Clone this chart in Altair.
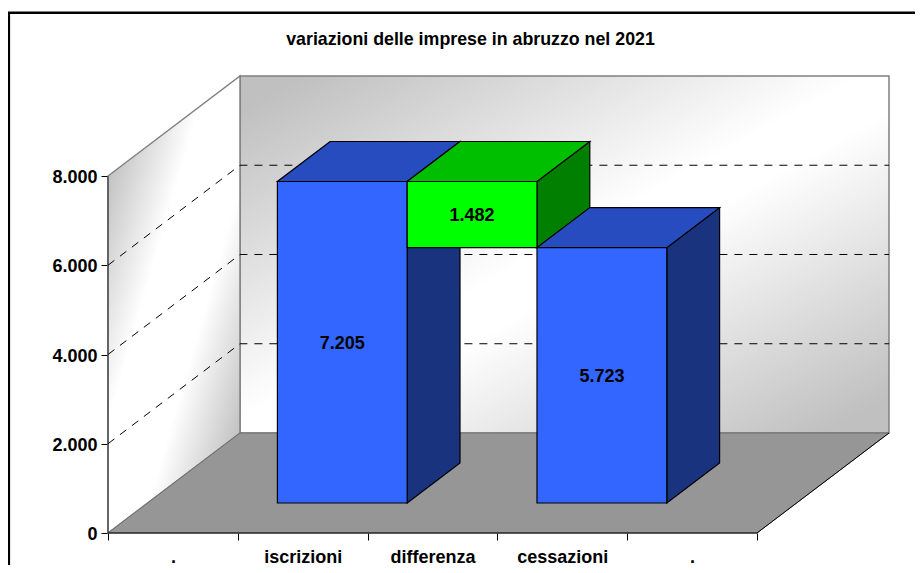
import json
import altair as alt
import pandas as pd

TITLE = "variazioni delle imprese in abruzzo nel 2021"
CATEGORIES = [".", "iscrizioni", "differenza", "cessazioni", "."]
BAR_POS = [1, 2, 3]
BAR_BASE = [0, 5723, 0]
BAR_VALUE = [7205, 1482, 5723]
BAR_FRONT = ["#3366ff", "#00ff00", "#3366ff"]
BAR_TOP = ["#264cbf", "#00bf00", "#264cbf"]
BAR_SIDE = ["#19337f", "#007f00", "#19337f"]
Y_TICKS = [0, 2000, 4000, 6000, 8000]
GRID = [2000, 4000, 6000]

# oblique projection of the depth axis onto the two screen axes
DX = 1.017      # category units for the full depth
DY = 2241.0     # value units for the full depth
D1, D2 = 0.3, 0.7
NCAT = len(CATEGORIES)
YMAX = 8000
FONT = "Liberation Sans"
FS = 18

xs = alt.Scale(domain=[0, NCAT + DX], nice=False, zero=False)
ys = alt.Scale(domain=[0, YMAX + DY], nice=False, zero=False)

x_vals = [i / 2 for i in range(2 * NCAT + 1)]
label_expr = ("datum.value % 1 === 0 ? '' : " + json.dumps(CATEGORIES)
              + "[floor(datum.value)]")
x_axis = alt.Axis(values=x_vals, labelExpr=label_expr, title=None, domain=False, grid=False,
                  tickSize=7, tickColor="#000000", tickWidth=1,
                  tickOpacity={"condition": {"test": "datum.value % 1 === 0", "value": 1}, "value": 0},
                  labelFont=FONT, labelFontSize=FS, labelFontWeight="bold", labelColor="#000000",
                  labelPadding=8, labelOverlap=False, labelFlush=False, labelBound=False)
y_axis = alt.Axis(values=Y_TICKS, labelExpr="replace(format(datum.value, ','), ',', '.')",
                  title=None, domain=False, grid=False, tickSize=7, tickColor="#000000",
                  tickWidth=1, labelFont=FONT, labelFontSize=FS, labelFontWeight="bold",
                  labelColor="#000000", labelPadding=4, labelOffset=1.5, labelOverlap=False,
                  labelFlush=False, labelBound=False)

X = lambda f: alt.X(f, type="quantitative", scale=xs, axis=x_axis)
Y = lambda f: alt.Y(f, type="quantitative", scale=ys, axis=y_axis)


def vert(pts, **mark):
    df = pd.DataFrame(pts, columns=["x", "y", "y2"])
    return alt.Chart(df).mark_area(orient="vertical", **mark).encode(
        x=X("x"), y=Y("y"), y2=alt.Y2("y2"))


def horiz(pts, **mark):
    df = pd.DataFrame(pts, columns=["y", "x", "x2"])
    return alt.Chart(df).mark_area(orient="horizontal", **mark).encode(
        y=Y("y"), x=X("x"), x2=alt.X2("x2"))


def line(pts, **mark):
    df = pd.DataFrame(pts, columns=["x", "y"])
    df["o"] = range(len(df))
    return alt.Chart(df).mark_line(**mark).encode(
        x=X("x"), y=Y("y"), order=alt.Order("o:Q"))


def grad(s0, s1, c0, s2, s3):
    c1 = "#ffffff"
    return alt.Gradient(
        gradient="linear", x1=0, y1=0, x2=1, y2=1,
        stops=[alt.GradientStop(offset=0, color=c0),
               alt.GradientStop(offset=s0, color=c0),
               alt.GradientStop(offset=s2, color=c1),
               alt.GradientStop(offset=s3, color=c1),
               alt.GradientStop(offset=s1, color=c0),
               alt.GradientStop(offset=1, color=c0)])


WALL = "#808080"
layers = []

# back wall
layers.append(vert([(DX, DY, YMAX + DY), (NCAT + DX, DY, YMAX + DY)],
                   color=grad(0.05, 0.95, "#c0c0c0", 0.48, 0.55), stroke=WALL, strokeWidth=1.5))
# side wall
layers.append(vert([(0, 0, YMAX), (DX, DY, YMAX + DY)],
                   color=grad(0.1, 0.9, "#c0c0c0", 0.38, 0.62), stroke=WALL, strokeWidth=1.5))
# floor
layers.append(horiz([(0, 0, NCAT), (DY, DX, NCAT + DX)], color="#969696", stroke="#6e6e6e", strokeWidth=1))
layers.append(line([(NCAT, 0), (NCAT + DX, DY)], color="#000000", strokeWidth=1))
layers.append(line([(0, 0), (NCAT, 0)], color="#000000", strokeWidth=1))
layers.append(line([(0, 0), (0, YMAX)], color="#404040", strokeWidth=1.2))

# gridlines
for g in GRID:
    layers.append(line([(0, g), (DX, g + DY), (NCAT + DX, g + DY)],
                       color="#000000", strokeWidth=1, strokeDash=[8, 7]))

# bars, back to front
label_rows = []
for pos, base, val, cf, ct, cs in zip(BAR_POS, BAR_BASE, BAR_VALUE, BAR_FRONT, BAR_TOP, BAR_SIDE):
    top = base + val
    st = dict(stroke="#000000", strokeWidth=1.2)
    layers.append(vert([(pos + 1 + D1 * DX, base + D1 * DY, top + D1 * DY),
                        (pos + 1 + D2 * DX, base + D2 * DY, top + D2 * DY)], color=cs, **st))
    layers.append(horiz([(top + D1 * DY, pos + D1 * DX, pos + 1 + D1 * DX),
                         (top + D2 * DY, pos + D2 * DX, pos + 1 + D2 * DX)], color=ct, **st))
    layers.append(vert([(pos + D1 * DX, base + D1 * DY, top + D1 * DY),
                        (pos + 1 + D1 * DX, base + D1 * DY, top + D1 * DY)], color=cf, **st))
    label_rows.append({"x": pos + 0.5 + D1 * DX, "y": base + val / 2 + D1 * DY,
                       "t": f"{val:,}".replace(",", ".")})

layers.append(
    alt.Chart(pd.DataFrame(label_rows)).mark_text(
        font=FONT, fontSize=FS, fontWeight="bold", color="#000000", dy=1.5).encode(
        x=X("x"), y=Y("y"), text="t:N")
)

# outer frame (left and top edges only reach the picture)
layers.append(alt.Chart(pd.DataFrame({"a": [0]})).mark_rule(color="#000000", strokeWidth=2.6).encode(
    x=alt.value(-99.2), y=alt.value(-63.3), y2=alt.value(520)))
layers.append(alt.Chart(pd.DataFrame({"a": [0]})).mark_rule(color="#000000", strokeWidth=2.6).encode(
    x=alt.value(-100), x2=alt.value(830), y=alt.value(-63.3)))

chart = alt.layer(*layers).properties(
    width=781, height=457,
    title=alt.TitleParams(TITLE, font=FONT, fontSize=17.8, fontWeight="bold", color="#000000",
                          anchor="middle", dx=-28, offset=-37),
    padding={"left": 100, "top": 68, "right": 26, "bottom": 32},
    autosize=alt.AutoSizeParams(type="none"),
    background="#ffffff",
).configure_view(stroke=None)

chart.save("out.html", embed_options={"renderer": "svg", "actions": False})
